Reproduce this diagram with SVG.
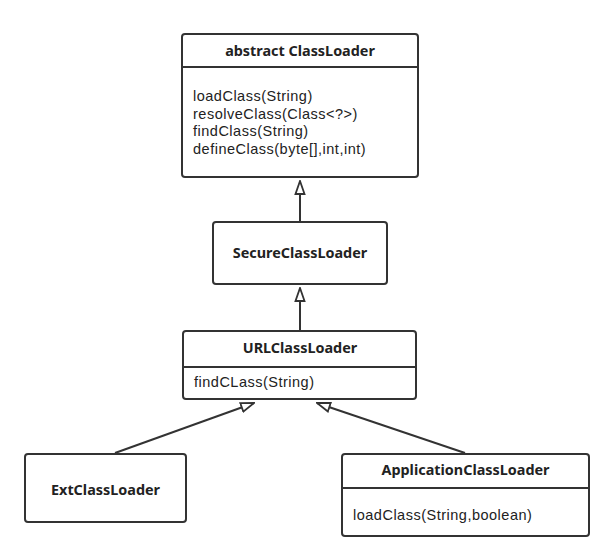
<svg xmlns="http://www.w3.org/2000/svg" width="607" height="553" viewBox="0 0 607 553">
<style>
.box{fill:#fff;stroke:#333;stroke-width:2}
.sep{stroke:#333;stroke-width:2}
.t{font-family:"Liberation Sans",Arial,sans-serif;font-size:14.5px;letter-spacing:0.5px;fill:#222}
.b{font-family:"Noto Sans","Open Sans",sans-serif;font-weight:bold;text-anchor:middle;font-size:14.4px;letter-spacing:0}
.e{stroke:#333;stroke-width:2;fill:none}
</style>
<defs>
<marker id="tri" markerWidth="15" markerHeight="12" refX="14" refY="6" orient="auto" markerUnits="userSpaceOnUse" viewBox="0 0 15 12">
<path d="M1,1.5 L14,6 L1,10.5 Z" fill="#fff" stroke="#333" stroke-width="1.8"/>
</marker>
</defs>
<rect width="607" height="553" fill="#fff"/>
<g id="edges">
<line class="e" x1="300" y1="222" x2="300" y2="181" marker-end="url(#tri)"/>
<line class="e" x1="300" y1="330" x2="300" y2="288" marker-end="url(#tri)"/>
<line class="e" x1="115" y1="453" x2="254" y2="403" marker-end="url(#tri)"/>
<line class="e" x1="465" y1="453" x2="317" y2="403" marker-end="url(#tri)"/>
</g>
<g id="ClassLoader">
<rect class="box" x="182" y="34" width="236" height="143" rx="3"/>
<line class="sep" x1="182" y1="67" x2="418" y2="67"/>
<text class="t b" x="300" y="56">abstract ClassLoader</text>
<text class="t" x="193" y="101">loadClass(String)</text>
<text class="t" x="193" y="118.5">resolveClass(Class&lt;?&gt;)</text>
<text class="t" x="193" y="136">findClass(String)</text>
<text class="t" x="193" y="153.5">defineClass(byte[],int,int)</text>
</g>
<g id="SecureClassLoader">
<rect class="box" x="213" y="222" width="174" height="62" rx="3"/>
<text class="t b" x="300" y="258">SecureClassLoader</text>
</g>
<g id="URLClassLoader">
<rect class="box" x="183" y="331" width="233" height="68" rx="3"/>
<line class="sep" x1="183" y1="367" x2="416" y2="367"/>
<text class="t b" x="300" y="353">URLClassLoader</text>
<text class="t" x="194" y="387">findCLass(String)</text>
</g>
<g id="ExtClassLoader">
<rect class="box" x="25" y="454" width="161" height="68" rx="3"/>
<text class="t b" x="105.5" y="495">ExtClassLoader</text>
</g>
<g id="ApplicationClassLoader">
<rect class="box" x="342" y="454" width="247" height="82" rx="3"/>
<line class="sep" x1="342" y1="488" x2="589" y2="488"/>
<text class="t b" x="465.5" y="475">ApplicationClassLoader</text>
<text class="t" x="353" y="520">loadClass(String,boolean)</text>
</g>
</svg>
